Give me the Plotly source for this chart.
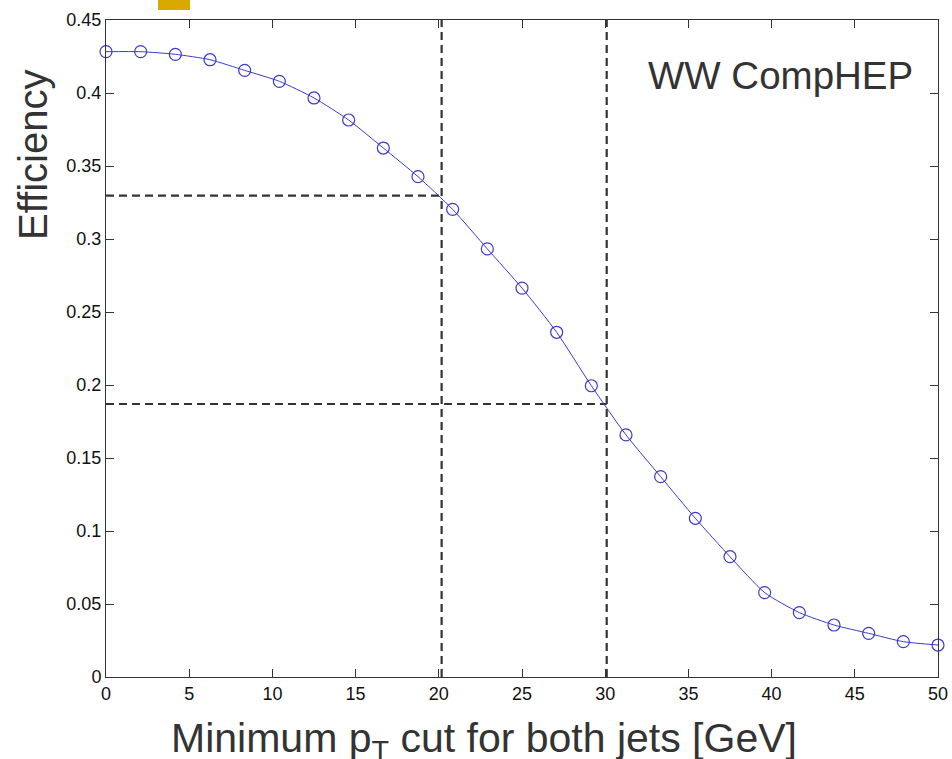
import plotly.graph_objects as go

# Data
pt_cut = [0, 2.083, 4.167, 6.25, 8.333, 10.417, 12.5, 14.583, 16.667, 18.75,
          20.833, 22.917, 25, 27.083, 29.167, 31.25, 33.333, 35.417, 37.5,
          39.583, 41.667, 43.75, 45.833, 47.917, 50]
efficiency = [0.4283, 0.4283, 0.4265, 0.4228, 0.4155, 0.408, 0.3966, 0.3815,
              0.3623, 0.3427, 0.3203, 0.2932, 0.2664, 0.2361, 0.1995, 0.1658,
              0.1372, 0.1087, 0.0824, 0.0578, 0.0441, 0.0356, 0.0299, 0.0242,
              0.0219]

# Reference guide lines (cut value, efficiency at cut)
guide_x = [20.17, 30.09]
guide_y = [0.3297, 0.187]

x_ticks = [0, 5, 10, 15, 20, 25, 30, 35, 40, 45, 50]
y_ticks = [0, 0.05, 0.1, 0.15, 0.2, 0.25, 0.3, 0.35, 0.4, 0.45]

fig = go.Figure()

dash_style = dict(color="#333333", width=2.2, dash="8px,5px")
for gx, gy in zip(guide_x, guide_y):
    fig.add_trace(go.Scatter(x=[gx, gx], y=[0, 0.45], mode="lines",
                             line=dash_style, hoverinfo="skip", showlegend=False))
    fig.add_trace(go.Scatter(x=[0, gx], y=[gy, gy], mode="lines",
                             line=dash_style, hoverinfo="skip", showlegend=False))

fig.add_trace(go.Scatter(
    x=pt_cut, y=efficiency, mode="lines+markers",
    line=dict(color="#3c3cc8", width=1, shape="spline", smoothing=0.6),
    marker=dict(symbol="circle-open", size=12, color="#3c3cc8",
                line=dict(width=1.2, color="#3c3cc8")),
    showlegend=False, cliponaxis=False,
))

axis_common = dict(
    showline=True, linecolor="#333333", linewidth=1, mirror="ticks",
    ticks="inside", ticklen=8, tickcolor="#333333", showgrid=False,
    zeroline=False, automargin=False,
    tickfont=dict(family="Liberation Sans, Arial", size=18, color="#111111"),
)

fig.update_layout(
    width=952, height=759,
    margin=dict(l=106, r=14, t=20, b=82, autoexpand=False),
    paper_bgcolor="white", plot_bgcolor="white",
    xaxis=dict(range=[0, 50], tickvals=x_ticks, **axis_common),
    yaxis=dict(range=[0, 0.45], tickvals=y_ticks, **axis_common),
    font=dict(family="Liberation Sans, Arial"),
)

fig.add_annotation(text="Minimum p<sub>T</sub> cut for both jets [GeV]",
                   xref="paper", yref="paper", x=0.454, y=-0.0974,
                   xanchor="center", yanchor="middle", showarrow=False,
                   font=dict(size=41, color="#333333"))
fig.add_annotation(text="Efficiency", textangle=-90,
                   xref="paper", yref="paper", x=-0.0877, y=0.7945,
                   xanchor="center", yanchor="middle", showarrow=False,
                   font=dict(size=40, color="#333333"))
fig.add_annotation(text="WW CompHEP",
                   xref="paper", yref="paper", x=0.811, y=0.916,
                   xanchor="center", yanchor="middle", showarrow=False,
                   font=dict(size=38.5, color="#333333"))

# small yellow logo fragment at top
fig.add_shape(type="rect", xref="paper", yref="paper",
              x0=(158 - 106) / 832, x1=(190 - 106) / 832,
              y0=(677 - 10) / 657, y1=(677 + 2) / 657,
              fillcolor="#d9a900", line=dict(width=0), layer="above")

fig.write_html("out.html", config={"displayModeBar": False},
               post_script="document.body.style.margin='0px';document.body.style.overflow='hidden';")
